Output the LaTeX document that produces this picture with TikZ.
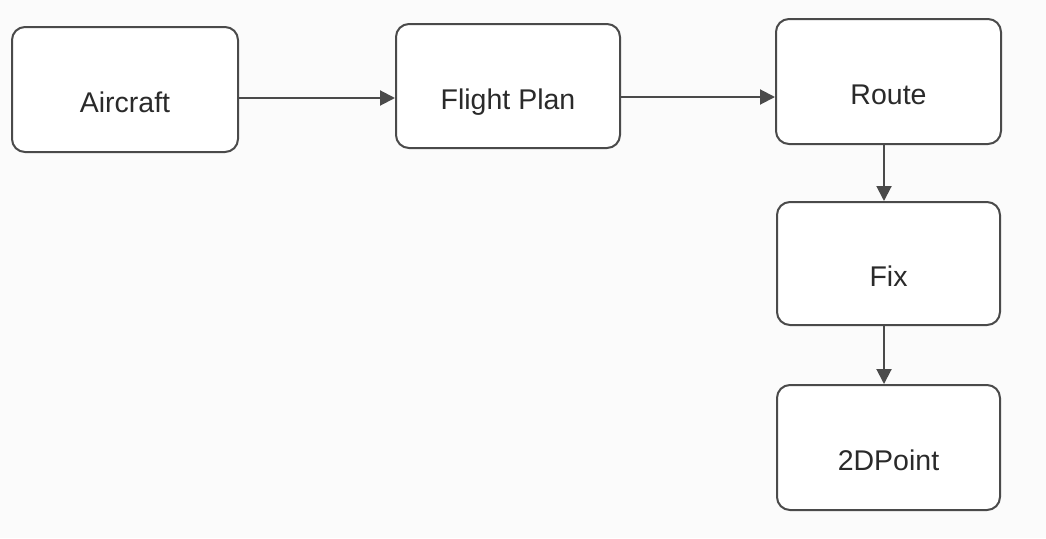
\documentclass[tikz,border=0pt]{standalone}
\usepackage{fontspec}
\setmainfont{Liberation Sans}
\usetikzlibrary{arrows.meta}
\definecolor{edge}{HTML}{4A4A4A}
\definecolor{txt}{HTML}{2A2A2A}
\definecolor{bg}{HTML}{FBFBFB}
\tikzset{
  box/.style={draw=edge, line width=2pt, rounded corners=13pt, fill=white,
    minimum width=224pt, minimum height=124pt, inner sep=0pt,
    text height=46pt, text depth=0pt, font=\fontsize{28.5}{32}\selectfont, text=txt},
  arr/.style={draw=edge, line width=2pt, -{Triangle[length=15pt,width=15pt]}}
}
\begin{document}
\begin{tikzpicture}[x=1pt,y=-1pt]
\fill[bg] (0,0) rectangle (1046,538);
\useasboundingbox (0,0) rectangle (1046,538);
\node[box, minimum width=226pt, minimum height=125pt] (air) at (125,89.5) {Aircraft};
\node[box] (fp) at (508,86) {Flight Plan};
\node[box, minimum width=225pt, minimum height=125pt] (route) at (888.5,81.5) {Route};
\node[box, minimum width=223pt, minimum height=123pt] (fix) at (888.5,263.5) {Fix};
\node[box, minimum width=223pt, minimum height=125pt] (pt) at (888.5,447.5) {2DPoint};
\draw[arr] (air.east |- 0,98) -- (fp.west |- 0,98);
\draw[arr] (fp.east |- 0,97) -- (route.west |- 0,97);
\draw[arr] (route.south -| 884,0) -- (fix.north -| 884,0);
\draw[arr] (fix.south -| 884,0) -- (pt.north -| 884,0);
\end{tikzpicture}
\end{document}
